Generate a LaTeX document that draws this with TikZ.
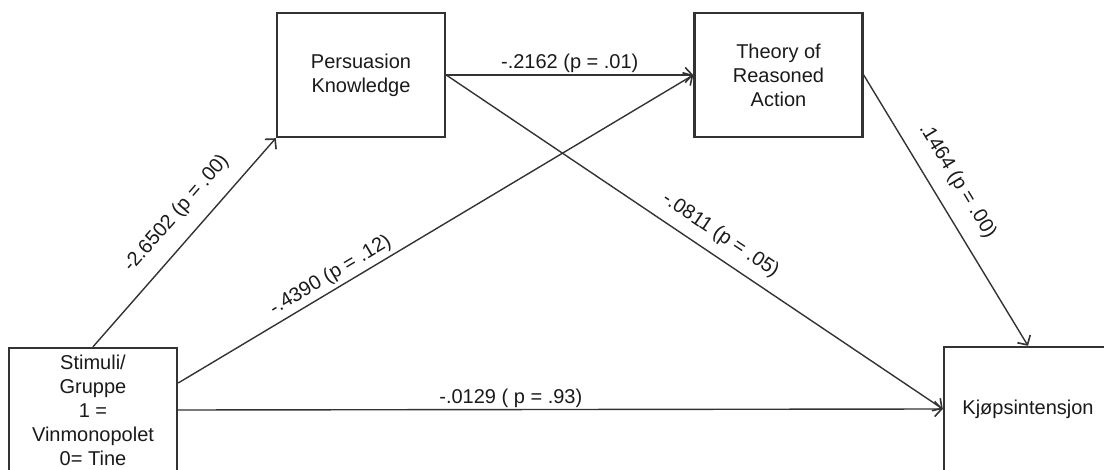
\documentclass[tikz,border=0pt]{standalone}
\usepackage{fontspec}
\setmainfont{Liberation Sans}
\usetikzlibrary{arrows.meta}
\definecolor{ln}{HTML}{333333}
\definecolor{tx}{HTML}{1A1A1A}
\begin{document}
\begin{tikzpicture}[x=1pt,y=-1pt,
  box/.style={draw=ln, line width=2.4pt, minimum width=168pt, minimum height=124pt,
    align=center, text=tx, font=\fontsize{20}{24}\selectfont, inner sep=0pt},
  arr/.style={draw=ln, line width=1.4pt, -{Straight Barb[length=7pt,width=15pt,line width=1.6pt]}},
  lab/.style={text=tx, font=\fontsize{20}{24}\selectfont, inner sep=0pt}]
\useasboundingbox (0,0) rectangle (1104,470);
\clip (0,0) rectangle (1104,470);
\node[box] (stim) at (93,410) {Stimuli/\\Gruppe\\1 =\\Vinmonopolet\\0= Tine};
\node[box] (pk) at (361,75) {Persuasion\\Knowledge};
\node[box] (tra) at (778.5,75) {Theory of\\Reasoned\\Action};
\node[box] (kj) at (1028,409) {Kjøpsintensjon};
\draw[arr] (stim.north) -- node[lab, sloped, pos=0.56, above=15pt] {-2.6502 (p = .00)} (pk.south west);
\draw[arr] ([yshift=27pt]stim.east) -- node[lab, sloped, pos=0.31, above=4pt] {-.4390 (p = .12)} (tra.west);
\draw[arr] (pk.east) -- node[lab, pos=0.5, above=2pt] {-.2162 (p = .01)} (tra.west);
\draw[arr] (pk.east) -- node[lab, sloped, pos=0.53, above=10pt] {-.0811 (p = .05)} (kj.west);
\draw[arr] (tra.east) -- node[lab, sloped, pos=0.44, above=15pt] {.1464 (p = .00)} (kj.north);
\draw[arr] (stim.east) -- node[lab, pos=0.435, above=1pt] {-.0129 ( p = .93)} (kj.west);
\end{tikzpicture}
\end{document}
